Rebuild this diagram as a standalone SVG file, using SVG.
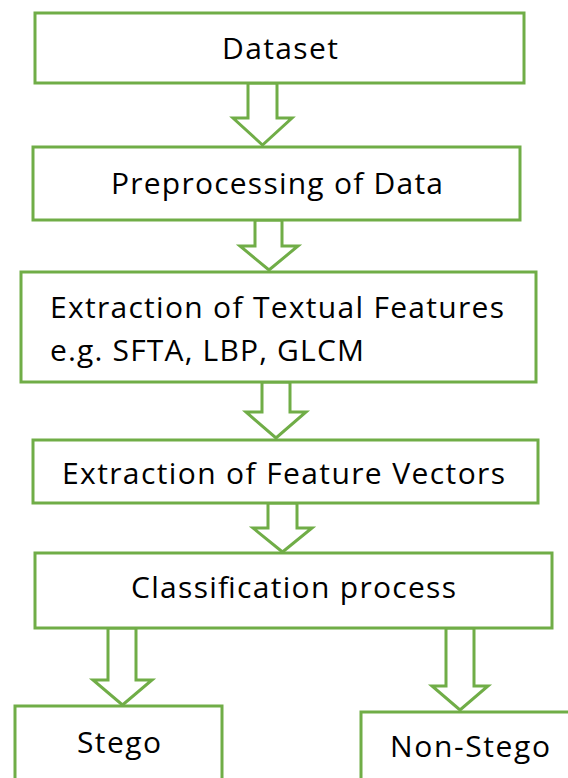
<svg xmlns="http://www.w3.org/2000/svg" width="568" height="778" viewBox="0 0 568 778">
<style>
.box{fill:#fff;stroke:#70AD47;stroke-width:3}
.arr{fill:#fff;stroke:#70AD47;stroke-width:3;stroke-linejoin:miter}
text{font-family:"Open Sans","Noto Sans",sans-serif;font-size:30px;fill:#000}
</style>
<rect width="568" height="778" fill="#fff"/>
<g id="connectors">
<path class="arr" d="M248,83 V118 H233 L262.5,145 L292,118 H277 V83 Z"/>
<path class="arr" d="M255,220 V246 H240 L269,270 L298,246 H282 V220 Z"/>
<path class="arr" d="M262,382 V412 H246 L276,438 L306,412 H290 V382 Z"/>
<path class="arr" d="M268,503 V528 H253 L282.5,552 L312,528 H297 V503 Z"/>
<path class="arr" d="M108,628 V680 H93 L122.5,705 L152,680 H136 V628 Z"/>
<path class="arr" d="M446,628 V686 H432 L460,710 L488,686 H474 V628 Z"/>
</g>
<g id="dataset"><rect class="box" x="35" y="13" width="489" height="70"/><text x="222" y="59" textLength="116">Dataset</text></g>
<g id="preprocessing"><rect class="box" x="33" y="147" width="487" height="73"/><text x="111" y="194" textLength="332">Preprocessing of Data</text></g>
<g id="textual"><rect class="box" x="21" y="272" width="515" height="110"/><text x="50" y="318" textLength="454">Extraction of Textual Features</text><text x="50" y="361" textLength="314">e.g. SFTA, LBP, GLCM</text></g>
<g id="vectors"><rect class="box" x="33" y="440" width="505" height="63"/><text x="62" y="484" textLength="443">Extraction of Feature Vectors</text></g>
<g id="classification"><rect class="box" x="35" y="553" width="517" height="75"/><text x="131" y="598" textLength="325">Classification process</text></g>
<g id="stego"><rect class="box" x="15" y="706" width="207" height="80"/><text x="77" y="753" textLength="84">Stego</text></g>
<g id="nonstego"><rect class="box" x="361" y="712" width="215" height="80"/><text x="390" y="757" textLength="160">Non-Stego</text></g>
</svg>
